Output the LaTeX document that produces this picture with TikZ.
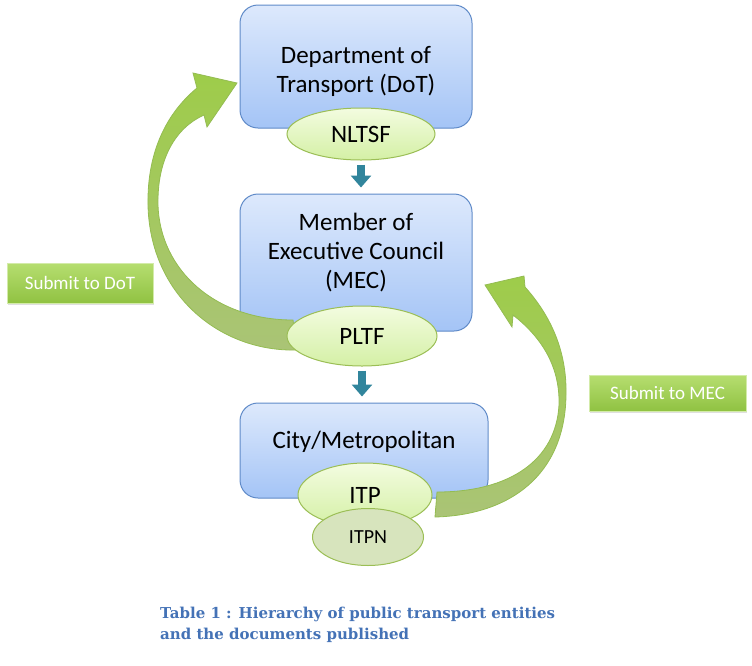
\documentclass[tikz,border=0pt]{standalone}
\usepackage{fontspec}
\setmainfont{Carlito}
\newfontfamily\captionfont{DejaVu Serif}
\usetikzlibrary{positioning, shapes.geometric, arrows.meta, shadows}

\definecolor{boxtop}{RGB}{221,233,252}
\definecolor{boxbot}{RGB}{164,196,246}
\definecolor{boxline}{RGB}{95,138,200}
\definecolor{ovaltop}{RGB}{243,252,224}
\definecolor{ovalbot}{RGB}{212,240,165}
\definecolor{ovalline}{RGB}{155,190,85}
\definecolor{itpnfill}{RGB}{215,228,189}
\definecolor{flowteal}{RGB}{49,133,156}
\definecolor{bendtop}{RGB}{158,204,74}
\definecolor{bendbot}{RGB}{170,196,118}
\definecolor{bendline}{RGB}{148,188,82}
\definecolor{tagtop}{RGB}{182,222,112}
\definecolor{tagbot}{RGB}{144,194,66}
\definecolor{captionblue}{RGB}{68,114,182}

\begin{document}
\begin{tikzpicture}[x=1pt, y=-1pt,
    entity/.style={rectangle, rounded corners=18pt, draw=boxline, line width=1pt, top color=boxtop, bottom color=boxbot, align=center, inner sep=0pt, font=\fontsize{25}{29}\selectfont},
    doc/.style={ellipse, draw=ovalline, line width=1pt, top color=ovaltop, bottom color=ovalbot, inner sep=0pt, font=\fontsize{25}{29}\selectfont},
    flow/.style={-{Triangle[width=20pt,length=12pt]}, line width=8pt, draw=flowteal, shorten <=4pt, shorten >=6pt},
    submitbend/.style={draw=bendline, line width=0.8pt, top color=bendtop, bottom color=bendbot},
    tag/.style={rectangle, draw=tagtop!60!white, line width=0.6pt, top color=tagtop, bottom color=tagbot, text=white, inner sep=0pt, font=\fontsize{19}{22}\selectfont, drop shadow={shadow xshift=1pt, shadow yshift=-2pt, opacity=0.25}}
]
\useasboundingbox (0,0) rectangle (752,665);

% Entities
\node[entity, minimum width=232pt, minimum height=123pt, text height=57pt] (dot) at (356,66.5) {Department of\\Transport (DoT)};
\node[entity, below=65pt of dot, minimum width=232pt, minimum height=137pt, text depth=24pt] (mec) {Member of\\Executive Council\\(MEC)};
\node[entity, minimum width=248pt, minimum height=95pt, text depth=22pt] (city) at (364,450.5) {City/Metropolitan};

% Submit arrows
\draw[submitbend] (297,350) .. controls (220,352) and (150,295) .. (148,205)
    .. controls (147,150) and (168,112) .. (197,88)
    -- (193,73) -- (237,83) -- (207,127) -- (204,115)
    .. controls (175,128) and (157,160) .. (158,205)
    .. controls (160,270) and (215,320) .. (293,320) -- cycle;
\draw[submitbend] (435,517) .. controls (510,515) and (565,475) .. (566,395)
    .. controls (567,350) and (550,315) .. (525,287)
    -- (524,276) -- (485,285) -- (512,327) -- (513,315)
    .. controls (545,340) and (560,370) .. (559,405)
    .. controls (556,460) and (510,492) .. (437,492) -- cycle;

% Documents
\node[doc, minimum width=148pt, minimum height=52pt] (nltsf) at (361,134) {NLTSF};
\node[doc, minimum width=150pt, minimum height=60pt] (pltf) at (362,336) {PLTF};
\node[doc, minimum width=134pt, minimum height=64pt] (itp) at (365,495) {ITP};
\node[doc, top color=itpnfill, bottom color=itpnfill, minimum width=111pt, minimum height=57pt, font=\fontsize{20}{24}\selectfont] (itpn) at (368,537) {ITPN};

% Hierarchy arrows
\draw[flow] (nltsf.south) -- (nltsf.south |- mec.north);
\draw[flow] (pltf.south) -- (pltf.south |- city.north);

% Labels
\node[tag, minimum width=146pt, minimum height=40pt] (todot) at (80,283) {Submit to DoT};
\node[tag, minimum width=157pt, minimum height=36pt] (tomec) at (667.5,393) {Submit to MEC};

\node[anchor=north west, align=left, text=captionblue, inner sep=0pt, font=\captionfont\bfseries\fontsize{15}{21}\selectfont] (caption) at (160,607) {Table 1 : Hierarchy of public transport entities\\and the documents published};
\end{tikzpicture}
\end{document}
